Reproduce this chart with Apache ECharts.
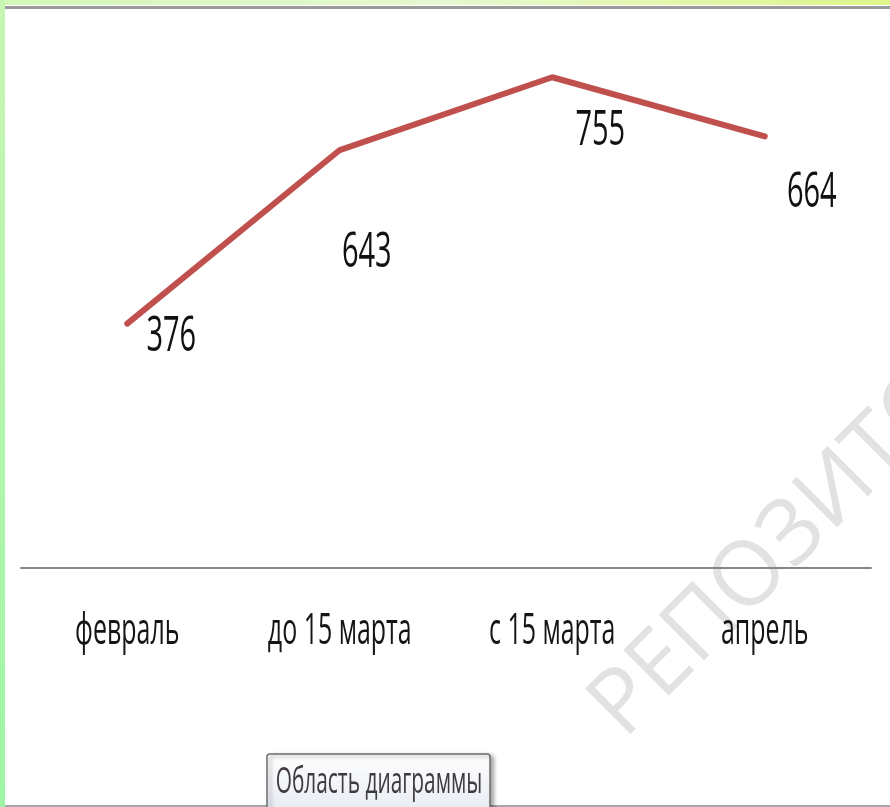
<!DOCTYPE html>
<html><head><meta charset="utf-8">
<script src="https://cdn.jsdelivr.net/npm/echarts@6/dist/echarts.min.js"></script>
<style>html,body{margin:0;padding:0;background:#fff}#c{width:890px;height:807px}</style>
</head><body><div id="c"></div>
<script>
const categories = ['февраль', 'до 15 марта', 'с 15 марта', 'апрель'];
const values = [376, 643, 755, 664];
const labelOffsets = [[44, 11], [27, 101], [48, 51], [47, 54]];
const FONT = "'Open Sans', 'Noto Sans', sans-serif";
const SX = 0.58;

const chart = echarts.init(document.getElementById('c'), null, {renderer: 'canvas'});
chart.setOption({
  backgroundColor: '#ffffff',
  animation: false,
  grid: {left: 21, right: 19, top: 48, bottom: 239, containLabel: false},
  xAxis: {
    type: 'category', data: categories, boundaryGap: true,
    axisLine: {show: true, lineStyle: {color: '#868686', width: 2}},
    axisTick: {show: false},
    axisLabel: {show: false}
  },
  yAxis: {type: 'value', min: 0, max: 800, show: false, splitLine: {show: false}},
  graphic: [
    {type: 'rect', z: -10, shape: {x: 0, y: 0, width: 890, height: 5}, style: {fill: new echarts.graphic.LinearGradient(0,0,1,0,[{offset:0,color:'#d2f7b8'},{offset:0.5,color:'#e6f8d0'},{offset:1,color:'#dff58a'}])}},
    {type: 'rect', z: -10, shape: {x: 0, y: 0, width: 5, height: 807}, style: {fill: new echarts.graphic.LinearGradient(0,0,0,1,[{offset:0,color:'#c8f5b4'},{offset:1,color:'#9ef5a6'}])}},
    {type: 'rect', z: -9, shape: {x: 5, y: 6, width: 885, height: 3}, style: {fill: '#9a9a9a'}},
    {type: 'rect', z: -9, shape: {x: 5, y: 805, width: 885, height: 2}, style: {fill: '#a8a8a8'}},
    {type: 'text', z: -5, x: 606, y: 722, rotation: Math.PI/4,
      style: {text: 'РЕПОЗИТОРИЙ', font: "90px 'Open Sans', sans-serif", fill: '#e2e2e2', textAlign: 'left', textVerticalAlign: 'middle'}},
    {type: 'rect', z: 50, shape: {x: 267, y: 754, width: 223, height: 60, r: 3},
      style: {fill: new echarts.graphic.LinearGradient(0,0,0,1,[{offset:0,color:'#ffffff'},{offset:1,color:'#e6eaf2'}]), stroke: '#6e6e6e', lineWidth: 1.5, shadowBlur: 4, shadowOffsetX: 3, shadowOffsetY: 2, shadowColor: 'rgba(0,0,0,0.35)'}},
    {type: 'text', z: 51, x: 379, y: 783, scaleX: SX,
      style: {text: 'Область диаграммы', font: "36px " + FONT, fill: '#3f3a3e', textAlign: 'center', textVerticalAlign: 'middle'}}
  ],
  series: [{
    type: 'line',
    data: values,
    symbol: 'none',
    lineStyle: {color: '#c0504d', width: 6, cap: 'round'},
    emphasis: {disabled: true}
  }, {
    type: 'custom',
    clip: false,
    silent: true,
    data: values.map((v, i) => [i, v]),
    renderItem: function (params, api) {
      const i = api.value(0);
      const p = api.coord([i, api.value(1)]);
      const b = api.coord([i, 0]);
      const off = labelOffsets[i];
      return {
        type: 'group',
        children: [{
          type: 'text', x: p[0] + off[0], y: p[1] + off[1] + 2, scaleX: SX,
          style: {text: String(values[i]), font: "50px " + FONT, fill: '#111', textAlign: 'center', textVerticalAlign: 'middle'}
        }, {
          type: 'text', x: b[0], y: b[1] + 64, scaleX: SX,
          style: {text: categories[i], font: "43px " + FONT, fill: '#151515', textAlign: 'center', textVerticalAlign: 'middle'}
        }]
      };
    }
  }]
});
</script></body></html>
